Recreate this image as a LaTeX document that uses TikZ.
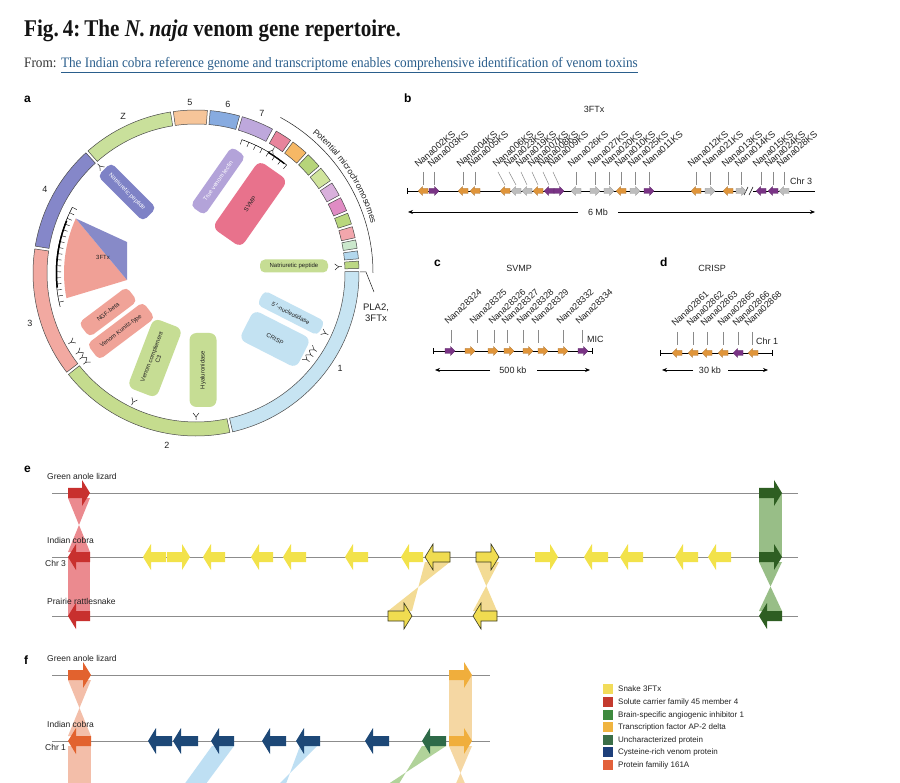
\documentclass[tikz,border=0pt]{standalone}
\usepackage{fontspec}
\setmainfont{Liberation Sans}
\newfontfamily\titlefont[FakeStretch=0.88]{Liberation Serif}
\newfontfamily\fromfont[FakeStretch=0.92]{Liberation Serif}
\usetikzlibrary{decorations.text,arrows.meta}

\definecolor{titlecol}{HTML}{141414}
\definecolor{fromcol}{HTML}{333333}
\definecolor{linkcol}{HTML}{2A5E8C}
\definecolor{txtcol}{HTML}{222222}
\definecolor{segline}{HTML}{4A4A4A}
\definecolor{leadcol}{HTML}{8A8A8A}
\definecolor{glinecol}{HTML}{8C8C8C}
\definecolor{cA}{HTML}{C7E4F2}
\definecolor{cB}{HTML}{C5DC8E}
\definecolor{cC}{HTML}{F2A9A1}
\definecolor{cD}{HTML}{8587C9}
\definecolor{cZ}{HTML}{C9E09B}
\definecolor{cE}{HTML}{F6C599}
\definecolor{cF}{HTML}{87ABE0}
\definecolor{cG}{HTML}{BEA8DC}
\definecolor{mA}{HTML}{E8849C}
\definecolor{mB}{HTML}{F6B865}
\definecolor{mC}{HTML}{B6D47A}
\definecolor{mD}{HTML}{D0E49C}
\definecolor{mE}{HTML}{D9B0DC}
\definecolor{mF}{HTML}{E08CC4}
\definecolor{mG}{HTML}{B9D77D}
\definecolor{mH}{HTML}{F2A6AC}
\definecolor{mI}{HTML}{CBE8CC}
\definecolor{mJ}{HTML}{B3D8EE}
\definecolor{mK}{HTML}{BCD884}
\definecolor{natcol}{HTML}{7E82C6}
\definecolor{leccol}{HTML}{B3A3D9}
\definecolor{svmpcol}{HTML}{E8728C}
\definecolor{pinkbox}{HTML}{F0A398}
\definecolor{greenbox}{HTML}{C6DD94}
\definecolor{bluebox}{HTML}{C3E2F2}
\definecolor{ftxpink}{HTML}{F0A096}
\definecolor{ftxblue}{HTML}{878AC8}
\definecolor{borange}{HTML}{E0953A}
\definecolor{bpurple}{HTML}{7A3486}
\definecolor{bgray}{HTML}{BDBDBD}
\definecolor{yel}{HTML}{F2E24A}
\definecolor{yelo}{HTML}{F0DC50}
\definecolor{olived}{HTML}{3A3A20}
\definecolor{redg}{HTML}{C8302E}
\definecolor{ribred}{HTML}{E8767C}
\definecolor{ribyel}{HTML}{F0D27A}
\definecolor{dgreen}{HTML}{2E5E22}
\definecolor{ribgreen}{HTML}{8DB87A}
\definecolor{orred}{HTML}{E2622E}
\definecolor{ribpeach}{HTML}{F2B8A0}
\definecolor{navy}{HTML}{1D4877}
\definecolor{ribblue}{HTML}{B8DCF2}
\definecolor{ugreen}{HTML}{2E6A48}
\definecolor{ribgreen2}{HTML}{A9CF90}
\definecolor{tforange}{HTML}{F0AE3C}
\definecolor{ribor}{HTML}{F5D39A}
\definecolor{lgA}{HTML}{F2DC5A}
\definecolor{lgB}{HTML}{C43A2E}
\definecolor{lgC}{HTML}{3E8A3E}
\definecolor{lgD}{HTML}{F0B440}
\definecolor{lgE}{HTML}{3B6E48}
\definecolor{lgF}{HTML}{1D3F7A}
\definecolor{lgG}{HTML}{E2603A}

% ring segment: alpha1, alpha2 (math angles), colour
\newcommand\seg[3]{\filldraw[fill=#3,draw=segline,line width=0.5pt] ({-(#1)}:163) arc[start angle={-(#1)},end angle={-(#2)},radius=163] -- ({-(#2)}:149) arc[start angle={-(#2)},end angle={-(#1)},radius=149] -- cycle;}
% gene arrow: tail x, tip x, y, head length, head half height, body half height, style
\newcommand\garr[7]{%
  \pgfmathsetmacro\gA{#1}\pgfmathsetmacro\gB{#2}%
  \pgfmathsetmacro\gH{\gB-sign(\gB-\gA)*(#4)}%
  \path[#7] (\gA,#3-#6) -- (\gH,#3-#6) -- (\gH,#3-#5) -- (\gB,#3) -- (\gH,#3+#5) -- (\gH,#3+#6) -- (\gA,#3+#6) -- cycle;}
\newcommand\barr[4]{\garr{#1}{#2}{#3}{8}{13}{5}{#4}}
\newcommand\sarr[4]{\garr{#1-5*(#2)}{#1+5*(#2)}{#3}{4.5}{4.5}{2.5}{#4}}
% Y-shaped mark: math angle, radius
\newcommand\ysym[2]{\draw[line width=0.5pt,draw=txtcol,rotate=#1] (#2,0) -- ({#2-3},0) .. controls ({#2-5},0) and ({#2-5},2.5) .. ({#2-7},3) ({#2-3},0) .. controls ({#2-5},0) and ({#2-5},-2.5) .. ({#2-7},-3);}

\begin{document}
\begin{tikzpicture}[x=1pt,y=-1pt,
  lbl/.style={inner sep=0, font=\fontsize{9}{10}\selectfont, text=txtcol},
  plet/.style={inner sep=0, anchor=base west, font=\bfseries\fontsize{12}{13}\selectfont, text=black},
  abox/.style={rounded corners=5pt, inner sep=1pt, align=center, font=\fontsize{6}{7}\selectfont},
  glab/.style={anchor=base west, inner sep=0, text=txtcol},
  lead/.style={draw=leadcol, line width=0.5pt},
  chrom/.style={line width=0.9pt, draw=black},
  sp/.style={inner sep=0, anchor=west, font=\fontsize{8.5}{9.5}\selectfont, text=txtcol},
  gline/.style={draw=glinecol, line width=0.8pt},
  scl/.style={-{Stealth[length=5pt,width=4pt]}, line width=0.7pt},
  legsq/.style={minimum size=10pt, inner sep=0},
  legtx/.style={inner sep=0, anchor=west, font=\fontsize{8}{9}\selectfont, text=txtcol}
]
\useasboundingbox (0,0) rectangle (900,783);
\clip (0,0) rectangle (900,783);
\fill[white] (0,0) rectangle (900,783);

% ---------- heading ----------
\node[anchor=base west, inner sep=0, text=titlecol] (title) at (24,37) {\titlefont\bfseries\fontsize{24}{26}\selectfont Fig.\,4:\,The \textit{N.\,naja} venom gene repertoire.};
\node[anchor=base west, inner sep=0] (from) at (24,68) {\fromfont\fontsize{14.4}{16}\selectfont\color{fromcol}From: \color{linkcol}\underline{The Indian cobra reference genome and transcriptome enables comprehensive identification of venom toxins}};

% ---------- panel a ----------
\node[plet] (pa) at (24,103) {a};
\begin{scope}[shift={(196,273)}]
  \seg{0.5}{-77}{cA}
  \seg{-78}{-141.5}{cB}
  \seg{-142.5}{-188.5}{cC}
  \seg{170.5}{132.5}{cD}
  \seg{131.5}{99}{cZ}
  \seg{98}{86}{cE}
  \seg{85}{74.5}{cF}
  \seg{73.5}{62}{cG}
  \seg{60.5}{54.5}{mA}
  \seg{53.5}{47.5}{mB}
  \seg{46.5}{41}{mC}
  \seg{40}{34.5}{mD}
  \seg{33.5}{28.5}{mE}
  \seg{27.5}{22.5}{mF}
  \seg{21.5}{17.5}{mG}
  \seg{16.5}{12.5}{mH}
  \seg{11.7}{8.7}{mI}
  \seg{7.8}{5}{mJ}
  \seg{4.2}{1.6}{mK}
  % potential microchromosomes
  \draw[line width=0.5pt, draw=txtcol] ({-61.5}:177) arc[start angle=-61.5, end angle=0, radius=177];
  \path[decorate, decoration={text along path, text align=center, text={|\fontsize{8.5}{9}\selectfont\color{txtcol}|Potential microchromosomes}}] ({-54}:182) arc[start angle=-54, end angle=-12, radius=182];
  % 3FTx cluster
  \fill[ftxpink] ({-155.6}:132) arc[start angle=-155.6, end angle=-191, radius=132] -- (-69,7) -- cycle;
  \fill[ftxblue] ({-155.6}:132) -- (-69,-31) -- (-69,7) -- cycle;
  \draw[line width=0.5pt] ({-152}:140) arc[start angle=-152, end angle=-194, radius=140];
  \draw[line width=1.5pt] ({-158}:139.5) arc[start angle=-158, end angle=-186, radius=139.5];
  \foreach \t in {152,154.5,...,194} {\draw[line width=0.4pt] ({-\t}:140) -- ({-\t}:135);}
  % SVMP ladder
  \draw[line width=0.5pt] ({-50}:141) arc[start angle=-50, end angle=-71, radius=141];
  \draw[line width=1.2pt] ({-51}:140.5) arc[start angle=-51, end angle=-59, radius=140.5];
  \foreach \t in {50,53,...,71} {\draw[line width=0.4pt] ({-\t}:141) -- ({-\t}:136);}
  % Y marks
  \ysym{58}{148}
  \ysym{132}{147}
  \ysym{2.5}{146}
  \ysym{-25}{146}
  \ysym{-33}{144}\ysym{-35.5}{144}\ysym{-38}{144}
  \ysym{-151}{146}
  \ysym{-141}{145}\ysym{-143.5}{145}\ysym{-146}{145}
  \ysym{-116}{147}
  \ysym{-90}{147}
\end{scope}
\node[lbl] (l3ftx) at (103,257) {\fontsize{6}{7}\selectfont 3FTx};
\node[lbl] (sZ) at (123,116) {Z};
\node[lbl] (s5) at (190,102) {5};
\node[lbl] (s6) at (228,104) {6};
\node[lbl] (s7) at (262,113) {7};
\node[lbl] (s4) at (45,189) {4};
\node[lbl] (s3) at (30,323) {3};
\node[lbl] (s2) at (167,445) {2};
\node[lbl] (s1) at (340,368) {1};
\coordinate (pb0) at (360,272);
\coordinate (pb1) at (366,272);
\coordinate (pb2) at (374,292);
\draw[line width=0.5pt, draw=txtcol] (pb0) -- (pb1) -- (pb2);
\node[lbl, align=center, font=\fontsize{9.5}{11}\selectfont] (pla) at (376,313) {PLA2,\\3FTx};

\node[abox, fill=natcol, text=white, minimum width=64pt, minimum height=19pt, rotate=-45] (natL) at (127,192) {Natriuretic peptide};
\node[abox, fill=leccol, text=white, minimum width=72pt, minimum height=17pt, rotate=55] (lectin) at (218,181) {True venom lectin};
\node[abox, fill=svmpcol, text=txtcol, minimum width=82pt, minimum height=35pt, rotate=55, rounded corners=7pt] (svmp) at (250,204) {SVMP};
\node[abox, fill=greenbox, text=txtcol, minimum width=68pt, minimum height=13pt] (natR) at (294,266) {Natriuretic peptide};
\node[abox, fill=bluebox, text=txtcol, minimum width=68pt, minimum height=16pt, rotate=-27] (nucl) at (291,313) {5$'$-nucleotidase};
\node[abox, fill=bluebox, text=txtcol, minimum width=64pt, minimum height=33pt, rotate=-27, rounded corners=7pt] (crisp) at (275,339) {CRISP};
\node[abox, fill=pinkbox, text=txtcol, minimum width=60pt, minimum height=18pt, rotate=37] (ngf) at (108,312) {NGF-beta};
\node[abox, fill=pinkbox, text=txtcol, minimum width=70pt, minimum height=20pt, rotate=37] (kun) at (121,331) {Venom Kunitz-type};
\node[abox, fill=greenbox, text=txtcol, minimum width=74pt, minimum height=31pt, rotate=69, rounded corners=7pt] (c3) at (155,358) {Venom complement\\C3};
\node[abox, fill=greenbox, text=txtcol, minimum width=74pt, minimum height=27pt, rotate=90, rounded corners=7pt] (hyal) at (203,370) {Hyaluronidase};

% ---------- panel b ----------
\node[plet] (pbl) at (404,103) {b};
\node[lbl] (bt) at (594,109) {3FTx};
\draw[chrom] (407,191) -- (815,191);
\draw[line width=0.6pt] (407,188) -- (407,194);
\fill[white] (745,186) rectangle (753,196);
\draw[line width=0.5pt] (744,195) -- (748,187) (749,195) -- (753,187);
\node[lbl] (chr3) at (790,181) [anchor=west] {Chr 3};
\foreach \lx/\tx/\gx/\nm [count=\i] in {418/423/423/002, 431/434/434/003, 460/463/463/004, 471/475/475/005, 496/498/505/006, 507/509/516/023, 519/521/527/019, 531/532/538/007, 541/543/549/008, 551/553/559/009, 571/576/576/026, 591/595/595/027, 605/609/609/020, 618/621/621/010, 631/635/635/025, 646/649/649/011, 691/696/696/012, 706/710/710/021, 725/728/728/013, 738/741/741/014, 756/761/761/015, 768/773/773/024, 780/784/784/028} {
  \node[glab, rotate=41, font=\fontsize{9.3}{10}\selectfont] (lb\i) at (\lx,168) {Nana\nm KS};
  \draw[lead] (\tx,172) -- (\gx,185);
}
\foreach \cx/\d/\c in {423/-1/borange, 434/1/bpurple, 463/-1/borange, 475/-1/borange, 505/-1/borange, 516/-1/bgray, 527/-1/bgray, 538/-1/borange, 549/-1/bpurple, 559/1/bpurple, 576/-1/bgray, 595/1/bgray, 609/1/bgray, 621/-1/borange, 635/1/bgray, 649/1/bpurple, 696/-1/borange, 710/1/bgray, 728/-1/borange, 741/1/bgray, 761/-1/bpurple, 773/-1/bpurple, 784/-1/bgray} {
  \sarr{\cx}{\d}{191}{fill=\c, draw=\c!75!black, line width=0.3pt}
}
\node[lbl] (mb6) at (598,212) {6 Mb};
\coordinate (sb1) at (578,212); \coordinate (sb2) at (408,212);
\coordinate (sb3) at (618,212); \coordinate (sb4) at (815,212);
\draw[scl] (sb1) -- (sb2);
\draw[scl] (sb3) -- (sb4);

% ---------- panel c ----------
\node[plet] (pcl) at (434,267) {c};
\node[lbl] (ct) at (519,268) {SVMP};
\draw[chrom] (433,351) -- (592,351);
\draw[line width=0.6pt] (433,348) -- (433,354) (592,348) -- (592,354);
\foreach \lx/\tx/\nm [count=\i] in {448/451/28324, 473/477/28325, 492/494/28326, 505/507/28327, 520/523/28328, 535/538/28329, 560/563/28332, 579/582/28334} {
  \node[glab, rotate=43, font=\fontsize{9}{10}\selectfont] (lc\i) at (\lx,325) {Nana\nm};
  \draw[lead] (\tx,330) -- (\tx,343);
}
\foreach \cx/\c in {450/bpurple, 470/borange, 493/borange, 509/borange, 528/borange, 543/borange, 563/borange, 583/bpurple} {
  \sarr{\cx}{1}{351}{fill=\c, draw=\c!75!black, line width=0.3pt}
}
\node[lbl, anchor=west] (mic) at (587,339) {MIC};
\node[lbl] (kb500) at (513,370) {500 kb};
\coordinate (sc1) at (490,370); \coordinate (sc2) at (435,370);
\coordinate (sc3) at (537,370); \coordinate (sc4) at (590,370);
\draw[scl] (sc1) -- (sc2);
\draw[scl] (sc3) -- (sc4);

% ---------- panel d ----------
\node[plet] (pdl) at (660,267) {d};
\node[lbl] (dt) at (712,268) {CRISP};
\draw[chrom] (660,353) -- (772,353);
\draw[line width=0.6pt] (660,350) -- (660,356) (772,350) -- (772,356);
\foreach \lx/\tx/\nm [count=\i] in {675/677/02861, 690/693/02862, 704/707/02863, 721/723/02865, 736/738/02866, 748/752/02868} {
  \node[glab, rotate=43, font=\fontsize{9}{10}\selectfont] (ld\i) at (\lx,327) {Nana\nm};
  \draw[lead] (\tx,332) -- (\tx,345);
}
\foreach \cx/\c in {677/borange, 693/borange, 707/borange, 723/borange, 738/bpurple, 753/borange} {
  \sarr{\cx}{-1}{353}{fill=\c, draw=\c!75!black, line width=0.3pt}
}
\node[lbl, anchor=west] (chr1d) at (756,341) {Chr 1};
\node[lbl] (kb30) at (710,370) {30 kb};
\coordinate (sd1) at (693,370); \coordinate (sd2) at (662,370);
\coordinate (sd3) at (728,370); \coordinate (sd4) at (768,370);
\draw[scl] (sd1) -- (sd2);
\draw[scl] (sd3) -- (sd4);

% ---------- panel e ----------
\node[plet] (pel) at (24,472) {e};
\coordinate (e1a) at (52,493); \coordinate (e1b) at (798,493);
\coordinate (e2a) at (52,557); \coordinate (e2b) at (798,557);
\coordinate (e3a) at (52,616); \coordinate (e3b) at (798,616);
\draw[gline] (e1a) -- (e1b);
\draw[gline] (e2a) -- (e2b);
\draw[gline] (e3a) -- (e3b);
% ribbons
\fill[ribred, opacity=0.85] (68,498) -- (90,498) -- (68,552) -- (90,552) -- cycle;
\fill[ribred, opacity=0.85] (68,557) rectangle (90,616);
\fill[ribyel, opacity=0.8] (425,562) -- (450,562) -- (388,611) -- (412,611) -- cycle;
\fill[ribyel, opacity=0.8] (476,562) -- (499,562) -- (473,611) -- (497,611) -- cycle;
\fill[ribgreen, opacity=0.9] (759,493) rectangle (782,557);
\fill[ribgreen, opacity=0.9] (759,562) -- (782,562) -- (759,611) -- (782,611) -- cycle;
\node[sp] (eg) at (47,476) {Green anole lizard};
\node[sp] (eic) at (47,540) {Indian cobra};
\node[sp] (ech) at (45,563) {Chr 3};
\node[sp] (epr) at (47,601) {Prairie rattlesnake};
% genes
\barr{68}{90}{493}{fill=redg}
\barr{90}{68}{557}{fill=redg}
\barr{90}{68}{616}{fill=redg}
\foreach \a/\b in {166/143, 167/190, 225/203, 273/251, 306/283, 368/345, 423/401, 535/558, 608/584, 643/620, 698/675, 731/708} {
  \barr{\a}{\b}{557}{fill=yel}
}
\barr{450}{425}{557}{fill=yelo, draw=olived, line width=0.6pt}
\barr{476}{499}{557}{fill=yelo, draw=olived, line width=0.6pt}
\barr{388}{412}{616}{fill=yelo, draw=olived, line width=0.6pt}
\barr{497}{473}{616}{fill=yelo, draw=olived, line width=0.6pt}
\barr{759}{782}{493}{fill=dgreen}
\barr{759}{782}{557}{fill=dgreen}
\barr{782}{759}{616}{fill=dgreen}

% ---------- panel f ----------
\node[plet] (pfl) at (24,664) {f};
\coordinate (f1a) at (52,675); \coordinate (f1b) at (490,675);
\coordinate (f2a) at (52,741); \coordinate (f2b) at (490,741);
\draw[gline] (f1a) -- (f1b);
\draw[gline] (f2a) -- (f2b);
% ribbons
\fill[ribpeach, opacity=0.9] (68,680) -- (91,680) -- (68,736) -- (91,736) -- cycle;
\fill[ribpeach, opacity=0.9] (68,746) rectangle (91,800);
\fill[ribor, opacity=0.9] (449,675) rectangle (472,741);
\fill[ribor, opacity=0.9] (449,746) -- (472,746) -- (449,800) -- (472,800) -- cycle;
\fill[ribblue, opacity=0.9] (212,746) -- (234,746) -- (194,800) -- (173,800) -- cycle;
\fill[ribblue, opacity=0.9] (300,746) -- (317,746) -- (263,800) -- (280,800) -- cycle;
\fill[ribgreen2, opacity=0.9] (422,746) -- (446,746) -- (364,800) -- (389,800) -- cycle;
\node[sp] (fg) at (47,658) {Green anole lizard};
\node[sp] (fic) at (47,724) {Indian cobra};
\node[sp] (fch) at (45,747) {Chr 1};
\node[sp] (fpr) at (47,789) {Prairie rattlesnake};
% genes
\barr{68}{91}{675}{fill=orred}
\barr{91}{68}{741}{fill=orred}
\foreach \a/\b in {172/148, 198/173, 234/211, 286/262, 320/296, 389/365} {
  \barr{\a}{\b}{741}{fill=navy}
}
\barr{446}{422}{741}{fill=ugreen}
\barr{449}{472}{675}{fill=tforange}
\barr{449}{472}{741}{fill=tforange}

% ---------- legend ----------
\foreach \y/\c/\t [count=\i] in {689/lgA/Snake 3FTx, 702/lgB/Solute carrier family 45 member 4, 715/lgC/Brain-specific angiogenic inhibitor 1, 727/lgD/Transcription factor AP-2 delta, 740/lgE/Uncharacterized protein, 752/lgF/Cysteine-rich venom protein, 765/lgG/Protein familiy 161A} {
  \node[legsq, fill=\c] (sq\i) at (608,\y) {};
  \node[legtx] (lt\i) at (618,\y) {\t};
}
\end{tikzpicture}
\end{document}
